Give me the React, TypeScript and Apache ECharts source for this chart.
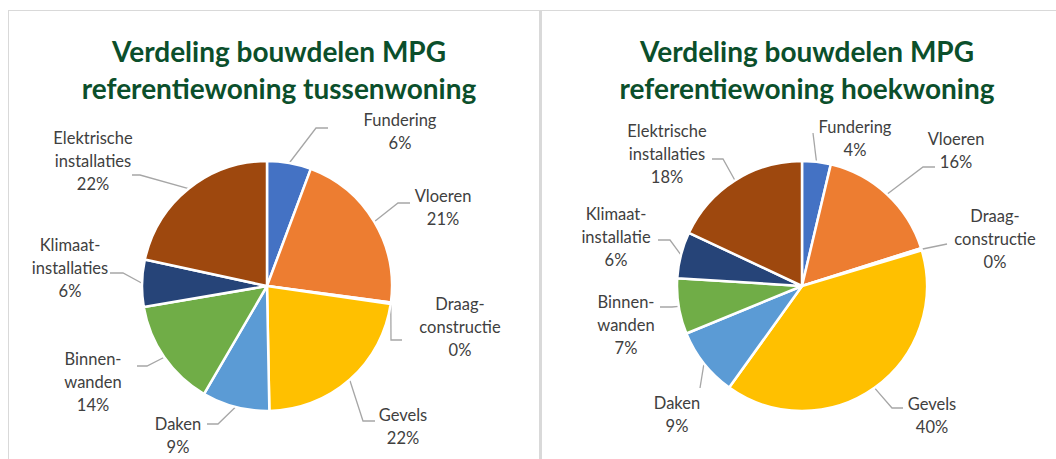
import React, { useEffect, useRef } from "react";
import * as echarts from "echarts";

const categories = [
  "Fundering",
  "Vloeren",
  "Draag-\nconstructie",
  "Gevels",
  "Daken",
  "Binnen-\nwanden",
  "Klimaat-\ninstallaties",
  "Elektrische\ninstallaties",
];
const categoriesRight = [
  "Fundering",
  "Vloeren",
  "Draag-\nconstructie",
  "Gevels",
  "Daken",
  "Binnen-\nwanden",
  "Klimaat-\ninstallatie",
  "Elektrische\ninstallaties",
];
const tussenwoning = [5.7, 21.4, 0.2, 22.4, 8.7, 13.9, 6.1, 21.6];
const hoekwoning = [3.7, 16.4, 0.3, 39.5, 8.9, 7.2, 6.0, 18.0];
const titles = [
  "Verdeling bouwdelen MPG\nreferentiewoning tussenwoning",
  "Verdeling bouwdelen MPG\nreferentiewoning hoekwoning",
];
const colors = ["#4472C4", "#ED7D31", "#A5A5A5", "#FFC000", "#5B9BD5", "#70AD47", "#264478", "#9E480E"];

// Label placement (style, relative to pie centre): [labelDx, labelDy, lineEndDx, lineEndDy, elbowLength]
const labelPlacementLeft = [
  [133, -155, 61, -158, 12],
  [176, -79, 143, -83, 12],
  [193, 41, 135, 54, 11],
  [136, 140, 108, 135, 12],
  [-89, 149, -60, 138, 11],
  [-174, 96, -130, 80, 10],
  [-197, -18, -157, -13, 13],
  [-174, -125, -135, -111, 8],
];
const labelPlacementRight = [
  [53, -148, 11, -153, 0],
  [154, -136, 133, -119, 12],
  [193, -47, 145, -42, 0],
  [130, 129, 101, 122, 11],
  [-125, 128, -102, 102, 0],
  [-176, 39, -142, 21, 12],
  [-186, -49, -144, -46, 12],
  [-135, -132, -90, -127, 11],
];

const centers = [
  [267, 286],
  [802, 286],
];

export default function App() {
  const ref = useRef<HTMLDivElement>(null);
  useEffect(() => {
    if (!ref.current) return;
    const chart = echarts.init(ref.current, undefined, { renderer: "svg" });
    const font = "Lato";
    const placements = [labelPlacementLeft, labelPlacementRight];
    const mkSeries = (names: string[], vals: number[], idx: number) => ({
      type: "pie",
      center: centers[idx],
      radius: [0, 125],
      startAngle: 90,
      clockwise: true,
      avoidLabelOverlap: false,
      data: names.map((n, i) => ({ name: n, value: vals[i], itemStyle: { color: colors[i] } })),
      itemStyle: { borderColor: "#ffffff", borderWidth: 2.5 },
      label: {
        show: true,
        position: "outside",
        formatter: (p: any) => `${p.name}\n${Math.round(p.value)}%`,
        color: "#404040",
        fontFamily: font,
        fontSize: 16.5,
        lineHeight: 23,
        align: "center",
      },
      labelLine: {
        show: true,
        length: 18,
        length2: 14,
        lineStyle: { color: "#A6A6A6", width: 1.3 },
      },
      labelLayout: (params: any) => {
        const pl = placements[idx][params.dataIndex];
        const [cx, cy] = centers[idx];
        const p0 = params.labelLinePoints ? params.labelLinePoints[0] : [cx, cy];
        const end = [cx + pl[2], cy + pl[3]];
        const dir = pl[2] >= 0 ? -1 : 1;
        const elbow = [end[0] + dir * pl[4], end[1]];
        return {
          x: cx + pl[0],
          y: cy + pl[1],
          align: "center",
          verticalAlign: "middle",
          labelLinePoints: [p0, elbow, end],
        };
      },
    });
    chart.setOption({
      animation: false,
      backgroundColor: "#ffffff",
      title: [
        {
          text: titles[0],
          left: 274,
          top: 27,
          textAlign: "center",
          textStyle: { color: "#0B4F2B", fontFamily: font, fontWeight: "bold", fontSize: 28, lineHeight: 37 },
        },
        {
          text: titles[1],
          left: 802,
          top: 27,
          textAlign: "center",
          textStyle: { color: "#0B4F2B", fontFamily: font, fontWeight: "bold", fontSize: 28, lineHeight: 37 },
        },
      ],
      graphic: [
        { type: "line", shape: { x1: 8, y1: 10.5, x2: 1056, y2: 10.5 }, style: { stroke: "#D9D9D9", lineWidth: 1 } },
        { type: "line", shape: { x1: 8.5, y1: 10, x2: 8.5, y2: 459 }, style: { stroke: "#D9D9D9", lineWidth: 1 } },
        { type: "rect", shape: { x: 539, y: 10, width: 3, height: 449 }, style: { fill: "#D9D9D9" } },
      ],
      series: [mkSeries(categories, tussenwoning, 0), mkSeries(categoriesRight, hoekwoning, 1)],
    });
    return () => chart.dispose();
  }, []);
  return <div ref={ref} style={{ width: 1056, height: 459, position: "absolute", left: 0, top: 0 }} />;
}
